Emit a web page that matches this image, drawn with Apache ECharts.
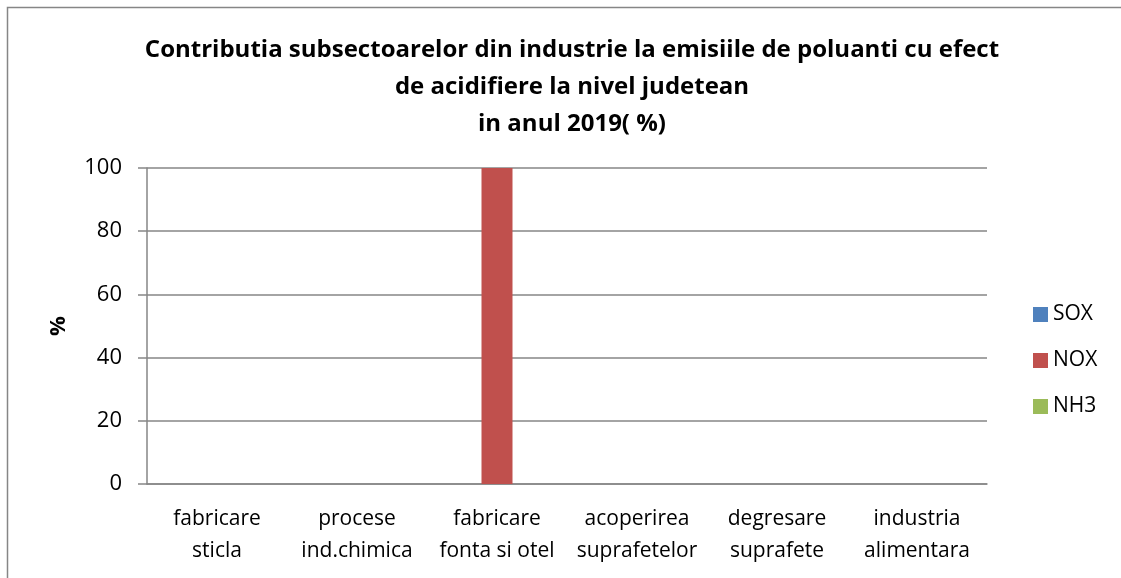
<!DOCTYPE html>
<html>
<head>
<meta charset="utf-8">
<script src="https://cdn.jsdelivr.net/npm/echarts@6/dist/echarts.min.js"></script>
<style>html,body{margin:0;padding:0;background:#fff}#c{width:1121px;height:578px}</style>
</head>
<body>
<div id="c"></div>
<script>
const categories = ['fabricare\nsticla', 'procese\nind.chimica', 'fabricare\nfonta si otel', 'acoperirea\nsuprafetelor', 'degresare\nsuprafete', 'industria\nalimentara'];
const sox = [0, 0, 0, 0, 0, 0];
const nox = [0, 0, 100, 0, 0, 0];
const nh3 = [0, 0, 0, 0, 0, 0];

const font = 'Open Sans';
let chart = echarts.init(document.getElementById('c'));
const option = {
    animation: false,
    textStyle: { fontFamily: font },
    title: {
        text: 'Contributia subsectoarelor din industrie la emisiile de poluanti cu efect\nde acidifiere la nivel judetean\nin anul 2019( %)',
        left: 567,
        top: 27,
        textAlign: 'center',
        textStyle: { fontSize: 24, fontWeight: 'bold', color: '#000', lineHeight: 37, fontFamily: font }
    },
    legend: {
        orient: 'vertical',
        left: 1028,
        top: 299,
        itemWidth: 15,
        itemHeight: 15,
        itemGap: 25,
        itemStyle: { borderWidth: 0 },
        icon: 'rect',
        textStyle: { fontSize: 21, color: '#000', padding: [0, 0, 0, 0] },
        data: ['SOX', 'NOX', 'NH3']
    },
    grid: { left: 147, right: 134, top: 168, bottom: 94 },
    xAxis: {
        type: 'category',
        data: categories,
        axisLine: { lineStyle: { color: '#868686', width: 1.5 } },
        axisTick: { show: false },
        axisLabel: { fontSize: 21, color: '#000', lineHeight: 32, margin: 19, interval: 0 }
    },
    yAxis: {
        type: 'value',
        min: 0,
        max: 100,
        interval: 20,
        name: '%',
        nameLocation: 'middle',
        nameGap: 77,
        nameTextStyle: { fontSize: 22, fontWeight: 'bold', color: '#000' },
        axisLine: { show: true, lineStyle: { color: '#868686', width: 1.5 } },
        axisTick: { show: true, inside: false, length: 9, lineStyle: { color: '#868686', width: 1.5 } },
        axisLabel: { fontSize: 22, color: '#000', margin: 25 },
        splitLine: { lineStyle: { color: '#868686', width: 1.5 } }
    },
    series: [
        { name: 'SOX', type: 'bar', data: sox, barWidth: 31, barGap: '0%', itemStyle: { color: '#4f81bd' } },
        { name: 'NOX', type: 'bar', data: nox, barWidth: 31, barGap: '0%', itemStyle: { color: '#c0504d' } },
        { name: 'NH3', type: 'bar', data: nh3, barWidth: 31, barGap: '0%', itemStyle: { color: '#9bbb59' } }
    ],
    graphic: [{
        type: 'rect',
        shape: { x: 7.5, y: 7.5, width: 1200, height: 700 },
        style: { fill: 'none', stroke: '#868686', lineWidth: 1.5 },
        silent: true
    }]
};
chart.setOption(option);
</script>
</body>
</html>
